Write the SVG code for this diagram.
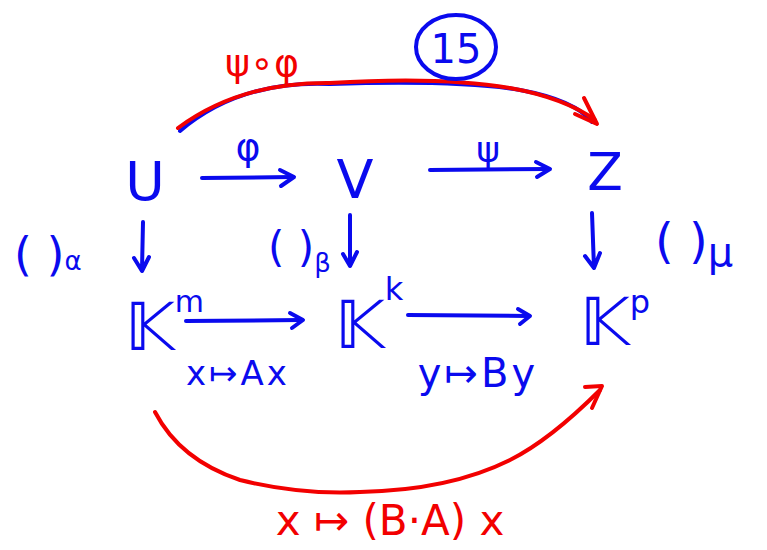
<svg xmlns="http://www.w3.org/2000/svg" width="767" height="550" viewBox="0 0 767 550">
<style>
.b{fill:#0a0aee;font-family:"DejaVu Sans","Liberation Sans",sans-serif}
.r{fill:#f20000;font-family:"DejaVu Sans","Liberation Sans",sans-serif}
.lb{fill:none;stroke:#0a0aee;stroke-width:4;stroke-linecap:round;stroke-linejoin:round}
.lr{fill:none;stroke:#f20000;stroke-width:4;stroke-linecap:round;stroke-linejoin:round}
</style>
<rect width="767" height="550" fill="#fff"/>
<g id="connectors">
<path class="lb" d="M180,131 Q240,80 330,84 Q460,80 520,90 Q575,100 592,122"/>
<path class="lr" d="M178,128 Q240,82 330,83 Q440,76 510,88 Q565,98 595,120"/>
<path class="lr" d="M584,98 L597,124 L575,114"/>
<path class="lb" d="M202,178 L292,177"/>
<path class="lb" d="M280,170 L294,177 L281,186"/>
<path class="lb" d="M430,170 L548,169"/>
<path class="lb" d="M536,162 L550,169 L537,177"/>
<path class="lb" d="M143,222 L142,270 M134,258 L142,271 L149,257"/>
<path class="lb" d="M350,215 L350,266 M343,254 L350,266 L357,252"/>
<path class="lb" d="M592,213 L594,268 M585,256 L594,268 L600,253"/>
<path class="lb" d="M186,321 L300,320"/>
<path class="lb" d="M290,313 L303,320 L292,328"/>
<path class="lb" d="M408,315 L528,316"/>
<path class="lb" d="M518,309 L530,316 L520,324"/>
<path class="lr" d="M155,412 Q180,460 240,480 Q300,495 360,492 Q450,490 510,460 Q550,440 600,390"/>
<path class="lr" d="M585,387 L602,386 L592,408"/>
</g>
<g id="U"><text class="b" x="145" y="200" font-size="54" text-anchor="middle">U</text></g>
<g id="V"><text class="b" x="355" y="198" font-size="54" text-anchor="middle">V</text></g>
<g id="Z"><text class="b" x="605" y="190" font-size="52" text-anchor="middle">Z</text></g>
<g id="label-phi"><text class="b" x="248" y="160" font-size="38" text-anchor="middle">φ</text></g>
<g id="label-psi"><text class="b" x="488" y="162" font-size="36" text-anchor="middle">ψ</text></g>
<g id="label-psiphi"><text class="r" x="262" y="76" font-size="38" text-anchor="middle">ψ∘φ</text></g>
<g id="badge">
<ellipse cx="456" cy="47" rx="40" ry="32" class="lb"/>
<text class="b" x="456" y="63" font-size="40" text-anchor="middle">15</text>
</g>
<g id="coord-alpha"><text class="b" x="14" y="270" font-size="46">( )<tspan font-size="26">α</tspan></text></g>
<g id="coord-beta"><text class="b" x="268" y="262" font-size="42">( )<tspan font-size="26" dy="10">β</tspan></text></g>
<g id="coord-mu"><text class="b" x="655" y="258" font-size="48">( )<tspan font-size="40" dy="8">μ</tspan></text></g>
<g id="Km"><text class="b" x="125" y="350" font-size="66">𝕂<tspan font-size="30" dy="-38">m</tspan></text></g>
<g id="Kk"><text class="b" x="335" y="348" font-size="66">𝕂<tspan font-size="32" dy="-48">k</tspan></text></g>
<g id="Kp"><text class="b" x="580" y="345" font-size="66">𝕂<tspan font-size="32" dy="-32">p</tspan></text></g>
<g id="label-A"><text class="b" x="238" y="385" font-size="34" text-anchor="middle" letter-spacing="3">x↦Ax</text></g>
<g id="label-B"><text class="b" x="478" y="387" font-size="40" text-anchor="middle" letter-spacing="3">y↦By</text></g>
<g id="label-BA"><text class="r" x="390" y="535" font-size="42" text-anchor="middle">x ↦ (B·A) x</text></g>
</svg>
